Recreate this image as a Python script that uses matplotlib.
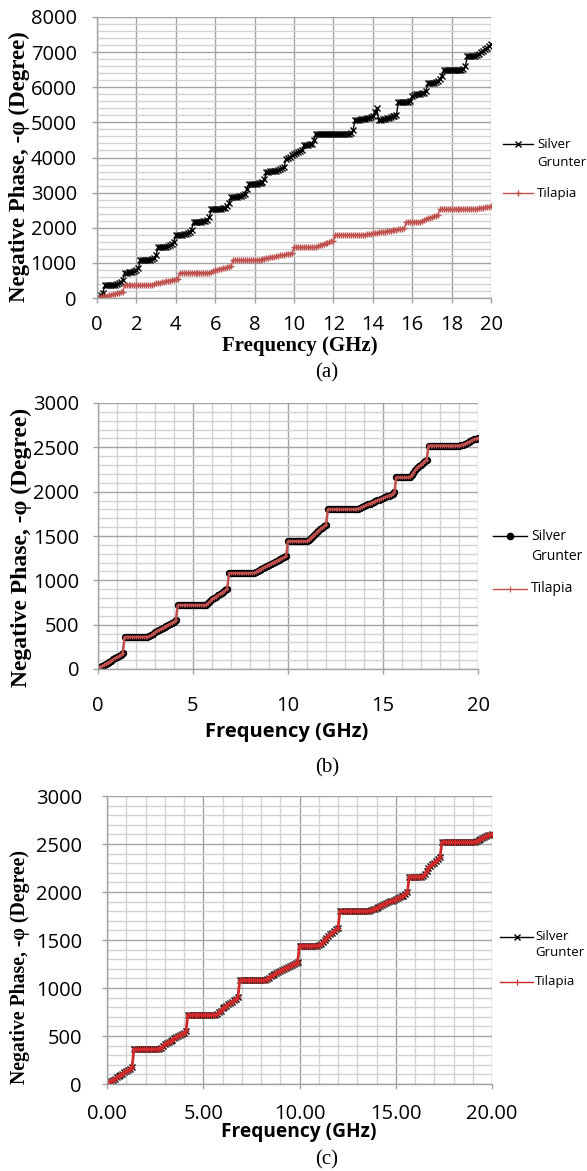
import matplotlib
matplotlib.use("Agg")
import matplotlib.pyplot as plt
from matplotlib.lines import Line2D
from matplotlib.ticker import MultipleLocator, FixedLocator

plt.rcParams['font.family'] = ['Open Sans', 'DejaVu Sans']

# ---------------- data ----------------
freq_ghz = [
    0.1, 0.2, 0.3, 0.4, 0.5, 0.6, 0.7, 0.8, 0.9, 1.0,
    1.1, 1.2, 1.3, 1.4, 1.5, 1.6, 1.7, 1.8, 1.9, 2.0,
    2.1, 2.2, 2.3, 2.4, 2.5, 2.6, 2.7, 2.8, 2.9, 3.0,
    3.1, 3.2, 3.3, 3.4, 3.5, 3.6, 3.7, 3.8, 3.9, 4.0,
    4.1, 4.2, 4.3, 4.4, 4.5, 4.6, 4.7, 4.8, 4.9, 5.0,
    5.1, 5.2, 5.3, 5.4, 5.5, 5.6, 5.7, 5.8, 5.9, 6.0,
    6.1, 6.2, 6.3, 6.4, 6.5, 6.6, 6.7, 6.8, 6.9, 7.0,
    7.1, 7.2, 7.3, 7.4, 7.5, 7.6, 7.7, 7.8, 7.9, 8.0,
    8.1, 8.2, 8.3, 8.4, 8.5, 8.6, 8.7, 8.8, 8.9, 9.0,
    9.1, 9.2, 9.3, 9.4, 9.5, 9.6, 9.7, 9.8, 9.9, 10.0,
    10.1, 10.2, 10.3, 10.4, 10.5, 10.6, 10.7, 10.8, 10.9, 11.0,
    11.1, 11.2, 11.3, 11.4, 11.5, 11.6, 11.7, 11.8, 11.9, 12.0,
    12.1, 12.2, 12.3, 12.4, 12.5, 12.6, 12.7, 12.8, 12.9, 13.0,
    13.1, 13.2, 13.3, 13.4, 13.5, 13.6, 13.7, 13.8, 13.9, 14.0,
    14.1, 14.2, 14.3, 14.4, 14.5, 14.6, 14.7, 14.8, 14.9, 15.0,
    15.1, 15.2, 15.3, 15.4, 15.5, 15.6, 15.7, 15.8, 15.9, 16.0,
    16.1, 16.2, 16.3, 16.4, 16.5, 16.6, 16.7, 16.8, 16.9, 17.0,
    17.1, 17.2, 17.3, 17.4, 17.5, 17.6, 17.7, 17.8, 17.9, 18.0,
    18.1, 18.2, 18.3, 18.4, 18.5, 18.6, 18.7, 18.8, 18.9, 19.0,
    19.1, 19.2, 19.3, 19.4, 19.5, 19.6, 19.7, 19.8, 19.9, 20.0,
]

# Tilapia negative phase (degree) -- same staircase in all three panels
tilapia_phase = [
    20, 32, 45, 57, 70, 82, 95, 108, 120, 133,
    146, 160, 175, 360, 360, 360, 360, 360, 360, 360,
    360, 360, 360, 360, 361, 363, 368, 378, 400, 415,
    428, 440, 452, 463, 475, 487, 498, 510, 522, 535,
    550, 720, 720, 720, 720, 720, 720, 720, 720, 720,
    720, 720, 720, 720, 720, 720, 725, 745, 765, 788,
    803, 817, 830, 843, 856, 870, 886, 905, 1080, 1080,
    1080, 1080, 1080, 1080, 1080, 1080, 1080, 1080, 1080, 1080,
    1080, 1082, 1095, 1108, 1120, 1132, 1143, 1155, 1166, 1178,
    1189, 1200, 1210, 1220, 1230, 1240, 1250, 1261, 1272, 1440,
    1440, 1440, 1440, 1440, 1440, 1440, 1440, 1440, 1440, 1443,
    1460, 1480, 1500, 1520, 1540, 1560, 1578, 1595, 1610, 1625,
    1800, 1800, 1800, 1800, 1800, 1800, 1800, 1800, 1800, 1800,
    1800, 1800, 1800, 1800, 1800, 1802, 1808, 1818, 1828, 1838,
    1848, 1857, 1866, 1875, 1884, 1893, 1902, 1911, 1920, 1930,
    1938, 1946, 1954, 1962, 1975, 1995, 2160, 2160, 2160, 2160,
    2160, 2160, 2160, 2163, 2185, 2215, 2248, 2272, 2290, 2305,
    2325, 2345, 2362, 2520, 2520, 2520, 2520, 2520, 2520, 2520,
    2520, 2520, 2520, 2520, 2520, 2520, 2520, 2520, 2520, 2520,
    2524, 2530, 2540, 2550, 2560, 2570, 2580, 2590, 2598, 2605,
]

# Silver Grunter negative phase (degree), panel (a)
silver_phase_a = [
    40, 90, 150, 360, 362, 365, 368, 372, 380, 395,
    420, 455, 500, 720, 722, 726, 732, 745, 765, 795,
    840, 1080, 1080, 1080, 1082, 1085, 1092, 1110, 1150, 1230,
    1440, 1442, 1446, 1452, 1462, 1478, 1500, 1535, 1590, 1800,
    1800, 1802, 1806, 1812, 1825, 1850, 1890, 1950, 2160, 2160,
    2162, 2166, 2172, 2182, 2200, 2230, 2300, 2520, 2520, 2522,
    2526, 2532, 2540, 2552, 2570, 2610, 2700, 2880, 2880, 2882,
    2886, 2892, 2902, 2920, 2960, 3100, 3240, 3240, 3242, 3246,
    3252, 3262, 3280, 3310, 3380, 3600, 3600, 3602, 3606, 3614,
    3626, 3645, 3670, 3700, 3740, 3970, 3995, 4025, 4060, 4110,
    4135, 4160, 4190, 4210, 4345, 4355, 4365, 4375, 4395, 4490,
    4680, 4680, 4680, 4680, 4680, 4680, 4680, 4680, 4680, 4680,
    4680, 4680, 4680, 4680, 4680, 4680, 4680, 4680, 4700, 4790,
    5060, 5070, 5080, 5090, 5100, 5110, 5120, 5135, 5150, 5170,
    5300, 5400, 5070, 5070, 5085, 5100, 5115, 5130, 5150, 5170,
    5190, 5210, 5590, 5580, 5575, 5570, 5575, 5585, 5600, 5740,
    5785, 5795, 5805, 5815, 5825, 5835, 5900, 6120, 6120, 6125,
    6135, 6150, 6190, 6230, 6320, 6500, 6500, 6500, 6500, 6500,
    6500, 6500, 6500, 6500, 6500, 6510, 6600, 6880, 6880, 6882,
    6886, 6895, 6910, 6960, 7010, 7040, 7075, 7120, 7170, 7220,
]

# Panels (b) and (c): both fish give the same staircase
silver_phase_b = tilapia_phase
tilapia_phase_b = tilapia_phase
silver_phase_c = tilapia_phase
tilapia_phase_c = tilapia_phase

xticks_a = [0, 2, 4, 6, 8, 10, 12, 14, 16, 18, 20]
yticks_a = [0, 1000, 2000, 3000, 4000, 5000, 6000, 7000, 8000]
xticks_b = [0, 5, 10, 15, 20]
yticks_b = [0, 500, 1000, 1500, 2000, 2500, 3000]
xticks_c = [0, 5, 10, 15, 20]
xticklabels_c = ["0.00", "5.00", "10.00", "15.00", "20.00"]
yticks_c = [0, 500, 1000, 1500, 2000, 2500, 3000]

series_names = ["Silver\nGrunter", "Tilapia"]

# ---------------- layout helpers ----------------
W, H = 587, 1171
fig = plt.figure(figsize=(W / 100, H / 100), dpi=100)


def box(l, t, r, b):
    return [l / W, 1 - b / H, (r - l) / W, (b - t) / H]


def fx(x):
    return x / W


def fy(y):
    return 1 - y / H


MAJ = '#A3A3A3'
MIN = '#D2D2D2'
RED_A = '#C0504D'
RED_C = '#D02A2A'
TICK_FS = 14.5


def style(ax, xt, yt, xminor, yminor, xlim, ylim, xpad, ypad, xlabels=None):
    ax.set_xlim(*xlim)
    ax.set_ylim(*ylim)
    ax.xaxis.set_major_locator(FixedLocator(xt))
    ax.yaxis.set_major_locator(FixedLocator(yt))
    if xminor:
        ax.xaxis.set_minor_locator(MultipleLocator(xminor))
    ax.yaxis.set_minor_locator(MultipleLocator(yminor))
    if xlabels is not None:
        ax.set_xticklabels(xlabels)
    ax.set_axisbelow(True)
    ax.grid(which='minor', color=MIN, lw=1.0)
    ax.grid(which='major', color=MAJ, lw=1.0)
    if not xminor:
        ax.xaxis.grid(False, which='minor')
    for s in ['top', 'right']:
        ax.spines[s].set_visible(False)
    for s in ['left', 'bottom']:
        ax.spines[s].set_color(MAJ)
        ax.spines[s].set_linewidth(1.0)
    ax.tick_params(which='major', direction='out', length=3.6, width=1,
                   color=MAJ, labelsize=TICK_FS, labelcolor='black')
    ax.tick_params(which='minor', length=0)
    ax.tick_params(axis='x', pad=xpad)
    ax.tick_params(axis='y', pad=ypad)
    for lab in ax.get_xticklabels() + ax.get_yticklabels():
        lab.set_clip_on(False)


def legend(x0, x1, ys, yg, yt, xt, silver_kw, til_kw, fs=9.5):
    xm = (x0 + x1) / 2
    fig.add_artist(Line2D([fx(x0), fx(xm), fx(x1)], [fy(ys)] * 3,
                          transform=fig.transFigure, markevery=[1], **silver_kw))
    fig.add_artist(Line2D([fx(x0), fx(xm), fx(x1)], [fy(yt)] * 3,
                          transform=fig.transFigure, markevery=[1], **til_kw))
    first, second = series_names[0].split("\n")
    fig.text(fx(xt), fy(ys), first, fontsize=fs, va='center', ha='left')
    fig.text(fx(xt), fy(yg), second, fontsize=fs, va='center', ha='left')
    fig.text(fx(xt), fy(yt), series_names[1], fontsize=fs, va='center', ha='left')


YLABEL = 'Negative Phase, -φ (Degree)'
SERIF = ['Liberation Serif', 'DejaVu Serif']

# ---------------- panel (a) ----------------
axA = fig.add_axes(box(97, 17, 491, 298))
s_kw_a = dict(color='black', lw=1.0, marker='x', ms=4, mew=1.0)
t_kw_a = dict(color=RED_A, lw=1.0, marker='+', ms=4, mew=1.0)
axA.plot(freq_ghz, silver_phase_a, **s_kw_a)
axA.plot(freq_ghz, tilapia_phase, **t_kw_a)
style(axA, xticks_a, yticks_a, None, 200, (0, 20), (0, 8000), 8.5, 11)
fig.text(fx(19), fy(167), YLABEL, rotation=90, ha='center', va='center',
         fontsize=16.5, fontweight='bold', family=SERIF)
fig.text(fx(300), fy(346), 'Frequency (GHz)', ha='center', va='center',
         fontsize=15, fontweight='bold', family=SERIF)
fig.text(fx(327), fy(373), '(a)', ha='center', va='center', fontsize=15, family=SERIF)
legend(503, 533, 144, 162, 193, 537, s_kw_a, t_kw_a)

# ---------------- panel (b) ----------------
axB = fig.add_axes(box(98, 403, 478, 669))
s_kw_b = dict(color='black', lw=1.0, marker='o', ms=4.5, mew=0.8)
t_kw_b = dict(color=RED_A, lw=1.8, marker='+', ms=3, mew=0.8)
axB.plot(freq_ghz, silver_phase_b, **s_kw_b)
axB.plot(freq_ghz, tilapia_phase_b, **t_kw_b)
style(axB, xticks_b, yticks_b, 1, 100, (0, 20), (0, 3000), 16, 10)
fig.text(fx(21), fy(547), YLABEL, rotation=90, ha='center', va='center',
         fontsize=17, fontweight='bold', family=SERIF)
fig.text(fx(287), fy(732), 'Frequency (GHz)', ha='center', va='center',
         fontsize=14.5, fontweight='bold')
fig.text(fx(327), fy(768), '(b)', ha='center', va='center', fontsize=15, family=SERIF)
legend(493, 527, 536, 557, 589, 531,
       dict(color='black', lw=1.0, marker='o', ms=4.5),
       dict(color=RED_A, lw=1.0, marker='+', ms=4, mew=0.8), fs=10)

# ---------------- panel (c) ----------------
axC = fig.add_axes(box(107, 796, 492, 1084))
s_kw_c = dict(color='black', lw=1.0, marker='x', ms=4.5, mew=1.0)
t_kw_c = dict(color=RED_C, lw=2.0, marker='+', ms=4, mew=1.0)
axC.plot(freq_ghz, silver_phase_c, **s_kw_c)
axC.plot(freq_ghz, tilapia_phase_c, **t_kw_c)
style(axC, xticks_c, yticks_c, 1, 100, (0, 20), (0, 3000), 11, 14.5, xlabels=xticklabels_c)
fig.text(fx(20), fy(967), YLABEL, rotation=90, ha='center', va='center',
         fontsize=14.2, fontweight='bold', family=SERIF)
fig.text(fx(299), fy(1132), 'Frequency (GHz)', ha='center', va='center',
         fontsize=13.8, fontweight='bold')
fig.text(fx(327), fy(1160), '(c)', ha='center', va='center', fontsize=15, family=SERIF)
legend(500, 533, 937, 953, 982, 535,
       dict(color='black', lw=1.0, marker='x', ms=4.5),
       dict(color=RED_C, lw=1.0, marker='+', ms=4, mew=0.8))

fig.savefig('out.png', dpi=100, facecolor='white')
